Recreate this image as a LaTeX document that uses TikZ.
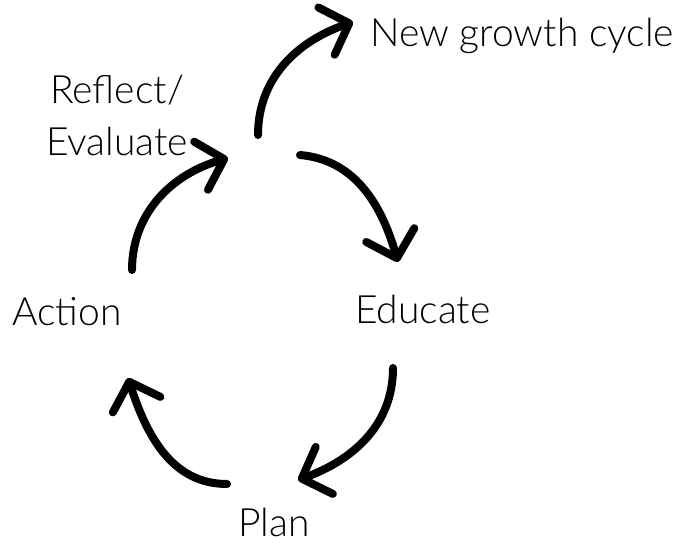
\documentclass[tikz,border=0pt]{standalone}
\usepackage{fontspec}
\setmainfont{Lato Light}
\usetikzlibrary{arrows.meta}
\begin{document}
\begin{tikzpicture}[x=1pt, y=1pt,
    cyc/.style={line width=8pt, line cap=round,
        -{Straight Barb[length=24pt, width=50pt, round]}},
    lbl/.style={font=\fontsize{39}{52}\selectfont, inner sep=0pt, anchor=base west}]
    \useasboundingbox (0,0) rectangle (676,542);

    % Stages of the cycle
    \node[lbl] (action) at (12,217) {Action};
    \node[lbl] (educate) at (355,219) {Educate};
    \node[lbl] (plan) at (238,6) {Plan};
    \node[lbl] (newcycle) at (370,495) {New growth cycle};
    \node[lbl, anchor=base, align=center] (reflect) at (117,387) {Reflect/\\Evaluate};

    % Arrow ends
    \coordinate (evalS) at (132,272);
    \coordinate (evalE) at (228,384);
    \coordinate (newS) at (258,407);
    \coordinate (newE) at (353,520);
    \coordinate (eduS) at (300,387);
    \coordinate (eduE) at (398,280);
    \coordinate (planS) at (393,174);
    \coordinate (planE) at (298,62);
    \coordinate (actS) at (227,58);
    \coordinate (actE) at (128,164);

    % Arrows round the cycle
    \draw[cyc] (evalS) to[out=90, in=196] (evalE);
    \draw[cyc] (newS) to[out=90, in=199] (newE);
    \draw[cyc] (eduS) to[out=-5, in=106] (eduE);
    \draw[cyc] (planS) to[out=-90, in=20] (planE);
    \draw[cyc] (actS) to[out=180, in=-72] (actE);
\end{tikzpicture}
\end{document}
